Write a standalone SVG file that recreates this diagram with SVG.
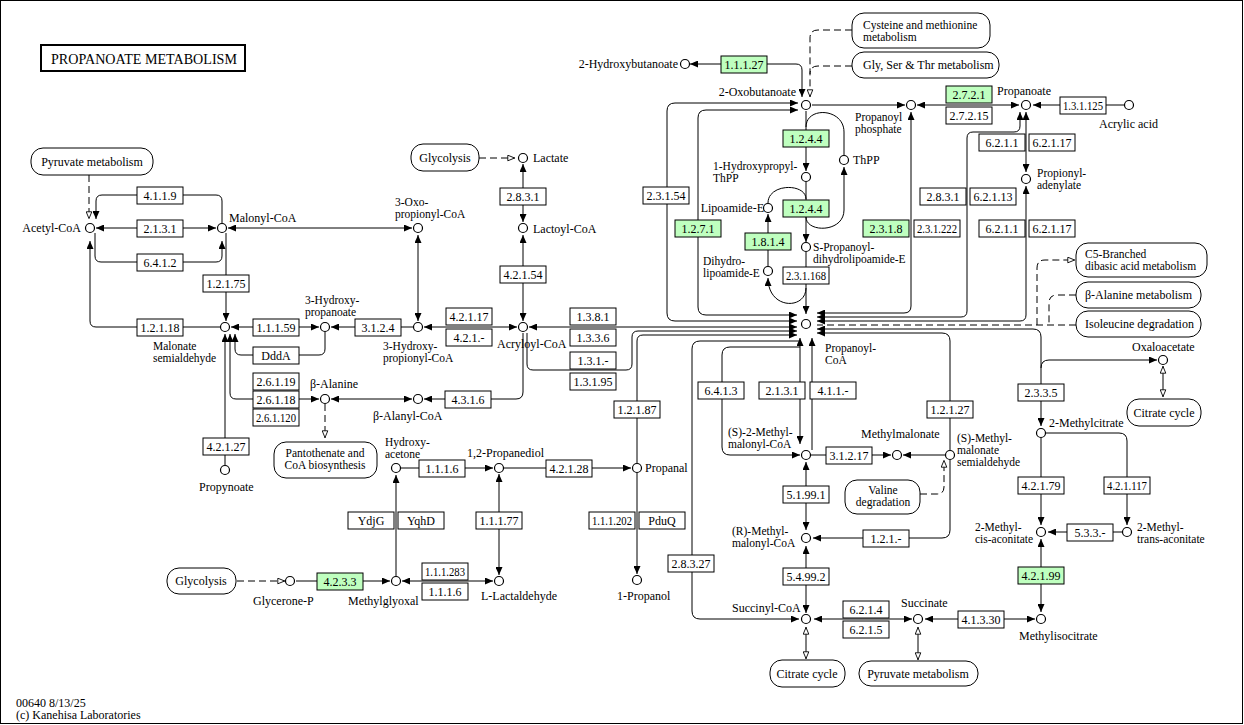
<svg xmlns="http://www.w3.org/2000/svg" width="1244" height="725" viewBox="0 0 1244 725">
<defs>
<style>
.ln{fill:none;stroke:#000;stroke-width:1}
.ds{fill:none;stroke:#000;stroke-width:1;stroke-dasharray:7 4}
.cp{fill:#fff;stroke:#000;stroke-width:1.2}
.ez{fill:#fff;stroke:#000;stroke-width:1}
.gn{fill:#bfffbf;stroke:#000;stroke-width:1}
.mp{fill:#fff;stroke:#000;stroke-width:1}
.b{marker-start:url(#f);marker-end:url(#f)}
.e{marker-end:url(#f)}
.he{marker-end:url(#o)}
text{font-family:"Liberation Serif","Times New Roman",serif;font-size:12px;fill:#000}
.s{font-size:11.5px}
.et,.mt{text-anchor:middle}
.r{text-anchor:end}
</style>
<marker id="f" viewBox="0 0 10 10" refX="10" refY="5" markerWidth="8" markerHeight="7" markerUnits="userSpaceOnUse" orient="auto-start-reverse" preserveAspectRatio="none"><path d="M0,0L10,5L0,10z" fill="#000"/></marker>
<marker id="o" viewBox="0 0 10 10" refX="10" refY="5" markerWidth="8" markerHeight="7" markerUnits="userSpaceOnUse" orient="auto-start-reverse" preserveAspectRatio="none"><path d="M1,1L9.5,5L1,9z" fill="#fff" stroke="#000" stroke-width="1.2" stroke-dasharray="none"/></marker>
</defs>
<rect width="1244" height="725" fill="#fff"/>
<rect x="0.5" y="0.5" width="1242" height="723" fill="none" stroke="#000"/>
<g id="title"><rect x="41" y="45" width="204" height="26" fill="none" stroke="#000" stroke-width="2"/><text x="51" y="64" style="font-size:14px" textLength="186" lengthAdjust="spacingAndGlyphs">PROPANOATE  METABOLISM</text></g>

<g id="connectors">
<path class="ds he" d="M89 175V219"/>
<path class="ln e" d="M222 223V201Q222 195 216 195H102Q96 195 96 201V219"/>
<path class="ln b" d="M96 228H216"/>
<path class="ln e" d="M95 233V256Q95 262 101 262H216Q222 262 222 256V241"/>
<path class="ln e" d="M220 327H96Q90 327 90 321V241"/>
<path class="ln e" d="M226 233V321"/>
<path class="ln b" d="M228 228H412"/>
<path class="ln b" d="M418 235V321"/>
<path class="ln b" d="M231 327H319"/>
<path class="ln e" d="M413 327H331"/>
<path class="ln e" d="M325 332V349Q325 355 319 355H241Q235 355 235 349V334"/>
<path class="ln b" d="M230 334V393Q230 399 236 399H319"/>
<path class="ln e" d="M225 465V334"/>
<path class="ln b" d="M331 399H412"/>
<path class="ds he" d="M325 404V438"/>
<path class="ln e" d="M523 333V392Q523 399 516 399H424"/>
<path class="ln b" d="M424 327H517"/>
<path class="ln b" d="M523 164V222"/>
<path class="ln b" d="M523 235V321"/>
<path class="ds he" d="M479 158H515"/>
<path class="ln b" d="M529 327H797"/>
<path class="ln e" d="M527 333V364Q527 370 533 370H626Q632 370 632 364V337Q632 331 638 331H797"/>
<path class="ln e" d="M637 463V341Q637 335 643 335H797"/>
<path class="ln b" d="M798 103H675Q667 103 667 111V313Q667 321 675 321H797"/>
<path class="ln b" d="M798 110H706Q698 110 698 118V307Q698 315 706 315H797"/>
<path class="ln b" d="M690 64H796Q802 64 802 70V97"/>
<path class="ds he" d="M852 30H818Q810 30 810 38V97"/>
<path class="ds" d="M852 66H818Q810 66 810 74"/>
<path class="ln e" d="M812 105H905"/>
<path class="ln b" d="M917 105H1019"/>
<path class="ln e" d="M1124 105H1033"/>
<path class="ln e" d="M806 111V171"/>
<path class="ln" d="M844 155V132C844 108 806 106 806 127"/>
<path class="ln e" d="M806 217C806 233 844 233 844 210V167"/>
<path class="ln e" d="M806 182V242"/>
<path class="ln" d="M768 203C768 183 806 183 806 199"/>
<path class="ln e" d="M768 266V214"/>
<path class="ln e" d="M806 288C806 310 768 310 768 278"/>
<path class="ln e" d="M806 252V314"/>
<path class="ln b" d="M911 112V306Q911 313 904 313H817"/>
<path class="ln b" d="M1020 112V126Q1020 132 1014 132H973Q967 132 967 138V311Q967 317 961 317H817"/>
<path class="ln b" d="M1026 112V172"/>
<path class="ln b" d="M1026 186V315Q1026 321 1020 321H817"/>
<path class="ds" d="M1076 325H817"/>
<path class="ds he" d="M1037 325V268Q1037 260 1045 260H1075"/>
<path class="ds" d="M1076 295H1057Q1049 295 1049 303V325"/>
<path class="ln b" d="M817 329H1033Q1041 329 1041 337V426"/>
<path class="ln e" d="M950 450V341Q950 333 942 333H817"/>
<path class="ln e" d="M1041 368Q1041 360 1049 360H1157"/>
<path class="ln he" d="M1163 381V366"/>
<path class="ln he" d="M1163 381V397"/>
<path class="ln e" d="M800 347H730Q722 347 722 355V447Q722 455 730 455H800"/>
<path class="ln e" d="M800 341H700Q692 341 692 349V611Q692 619 700 619H799"/>
<path class="ln b" d="M800 338V444"/>
<path class="ln e" d="M812 450V338"/>
<path class="ln e" d="M811 455H891"/>
<path class="ln e" d="M945 455H903"/>
<path class="ds he" d="M920 494H937Q944 494 944 487V460"/>
<path class="ln e" d="M950 460V530Q950 538 942 538H813"/>
<path class="ln b" d="M806 462V530"/>
<path class="ln b" d="M806 546V613"/>
<path class="ln b" d="M814 619H912"/>
<path class="ln b" d="M925 619H1035"/>
<path class="ln b" d="M1041 539V612"/>
<path class="ln e" d="M1041 438V525"/>
<path class="ln e" d="M1046 433H1119Q1127 433 1127 441V525"/>
<path class="ln e" d="M1122 532H1048"/>
<path class="ln he" d="M806 641V627"/>
<path class="ln he" d="M806 641V659"/>
<path class="ln he" d="M918 641V627"/>
<path class="ln he" d="M918 641V660"/>
<path class="ds he" d="M237 581H285"/>
<path class="ln e" d="M296 581H390"/>
<path class="ln b" d="M402 581H493"/>
<path class="ln e" d="M396 576V475"/>
<path class="ln e" d="M401 468H493"/>
<path class="ln b" d="M499 474V575"/>
<path class="ln e" d="M504 468H631"/>
<path class="ln e" d="M637 473V574"/>
</g>

<g id="maps">
<g id="m-pyr1"><rect class="mp" x="31" y="148" width="122" height="27" rx="12"/><text class="mt" x="92" y="166">Pyruvate metabolism</text></g>
<g id="m-gly1"><rect class="mp" x="411" y="144" width="68" height="27" rx="12"/><text class="mt" x="445" y="162">Glycolysis</text></g>
<g id="m-cys"><rect class="mp" x="852" y="13" width="138" height="35" rx="12"/><text class="s" x="863" y="29">Cysteine and methionine</text><text class="s" x="863" y="41">metabolism</text></g>
<g id="m-gst"><rect class="mp" x="852" y="52" width="147" height="26" rx="12"/><text x="863" y="69">Gly, Ser &amp; Thr metabolism</text></g>
<g id="m-c5"><rect class="mp" x="1076" y="243" width="131" height="34" rx="12"/><text class="s" x="1085" y="258">C5-Branched</text><text class="s" x="1085" y="270">dibasic acid metabolism</text></g>
<g id="m-bala"><rect class="mp" x="1076" y="282" width="125" height="26" rx="12"/><text x="1085" y="299">β-Alanine metabolism</text></g>
<g id="m-ile"><rect class="mp" x="1076" y="311" width="125" height="26" rx="12"/><text x="1085" y="328">Isoleucine degradation</text></g>
<g id="m-tca1"><rect class="mp" x="1127" y="399" width="74" height="27" rx="12"/><text class="mt" x="1164" y="417">Citrate cycle</text></g>
<g id="m-pan"><rect class="mp" x="274" y="442" width="103" height="36" rx="12"/><text class="mt s" x="325" y="457">Pantothenate and</text><text class="mt s" x="325" y="469">CoA biosynthesis</text></g>
<g id="m-val"><rect class="mp" x="845" y="480" width="75" height="34" rx="12"/><text class="mt s" x="883" y="494">Valine</text><text class="mt s" x="883" y="506">degradation</text></g>
<g id="m-gly2"><rect class="mp" x="167" y="568" width="69" height="26" rx="12"/><text class="mt" x="201" y="585">Glycolysis</text></g>
<g id="m-tca2"><rect class="mp" x="770" y="660" width="75" height="27" rx="12"/><text class="mt" x="807" y="678">Citrate cycle</text></g>
<g id="m-pyr2"><rect class="mp" x="859" y="661" width="119" height="25" rx="12"/><text class="mt" x="918" y="678">Pyruvate metabolism</text></g>
</g>

<g id="enzymes">
<g id="e01"><rect class="ez" x="137" y="187" width="46" height="17"/><text class="et" x="160" y="200">4.1.1.9</text></g>
<g id="e02"><rect class="ez" x="137" y="220" width="46" height="17"/><text class="et" x="160" y="233">2.1.3.1</text></g>
<g id="e03"><rect class="ez" x="137" y="254" width="46" height="17"/><text class="et" x="160" y="267">6.4.1.2</text></g>
<g id="e04"><rect class="ez" x="203" y="275" width="46" height="17"/><text class="et" x="226" y="288">1.2.1.75</text></g>
<g id="e05"><rect class="ez" x="137" y="319" width="46" height="17"/><text class="et" x="160" y="332">1.2.1.18</text></g>
<g id="e06"><rect class="ez" x="253" y="319" width="46" height="17"/><text class="et" x="276" y="332">1.1.1.59</text></g>
<g id="e07"><rect class="ez" x="253" y="347" width="46" height="17"/><text class="et" x="276" y="360">DddA</text></g>
<g id="e08"><rect class="ez" x="355" y="319" width="46" height="17"/><text class="et" x="378" y="332">3.1.2.4</text></g>
<g id="e09"><rect class="ez" x="253" y="373" width="46" height="17"/><text class="et" x="276" y="386">2.6.1.19</text></g>
<g id="e10"><rect class="ez" x="253" y="391" width="46" height="17"/><text class="et" x="276" y="404">2.6.1.18</text></g>
<g id="e11"><rect class="ez" x="253" y="409" width="46" height="17"/><text class="et" x="276" y="422" textLength="40" lengthAdjust="spacingAndGlyphs">2.6.1.120</text></g>
<g id="e12"><rect class="ez" x="203" y="438" width="46" height="17"/><text class="et" x="226" y="451">4.2.1.27</text></g>
<g id="e13"><rect class="ez" x="446" y="308" width="46" height="17"/><text class="et" x="469" y="321">4.2.1.17</text></g>
<g id="e14"><rect class="ez" x="446" y="329" width="46" height="17"/><text class="et" x="469" y="342">4.2.1.-</text></g>
<g id="e15"><rect class="ez" x="500" y="266" width="46" height="17"/><text class="et" x="523" y="279">4.2.1.54</text></g>
<g id="e16"><rect class="ez" x="500" y="188" width="46" height="17"/><text class="et" x="523" y="201">2.8.3.1</text></g>
<g id="e17"><rect class="ez" x="570" y="308" width="46" height="17"/><text class="et" x="593" y="321">1.3.8.1</text></g>
<g id="e18"><rect class="ez" x="570" y="329" width="46" height="17"/><text class="et" x="593" y="342">1.3.3.6</text></g>
<g id="e19"><rect class="ez" x="570" y="352" width="46" height="17"/><text class="et" x="593" y="365">1.3.1.-</text></g>
<g id="e20"><rect class="ez" x="570" y="373" width="46" height="17"/><text class="et" x="593" y="386">1.3.1.95</text></g>
<g id="e21"><rect class="ez" x="445" y="391" width="46" height="17"/><text class="et" x="468" y="404">4.3.1.6</text></g>
<g id="e22"><rect class="ez" x="614" y="401" width="46" height="17"/><text class="et" x="637" y="414">1.2.1.87</text></g>
<g id="e23"><rect class="ez" x="698" y="382" width="46" height="17"/><text class="et" x="721" y="395">6.4.1.3</text></g>
<g id="e24"><rect class="ez" x="759" y="382" width="46" height="17"/><text class="et" x="782" y="395">2.1.3.1</text></g>
<g id="e25"><rect class="ez" x="810" y="382" width="46" height="17"/><text class="et" x="833" y="395">4.1.1.-</text></g>
<g id="e26"><rect class="ez" x="419" y="460" width="46" height="17"/><text class="et" x="442" y="473">1.1.1.6</text></g>
<g id="e27"><rect class="ez" x="546" y="460" width="46" height="17"/><text class="et" x="569" y="473">4.2.1.28</text></g>
<g id="e28"><rect class="ez" x="348" y="512" width="46" height="17"/><text class="et" x="371" y="525">YdjG</text></g>
<g id="e29"><rect class="ez" x="398" y="512" width="46" height="17"/><text class="et" x="421" y="525">YqhD</text></g>
<g id="e30"><rect class="ez" x="476" y="512" width="46" height="17"/><text class="et" x="499" y="525">1.1.1.77</text></g>
<g id="e31"><rect class="ez" x="589" y="512" width="46" height="17"/><text class="et" x="612" y="525" textLength="40" lengthAdjust="spacingAndGlyphs">1.1.1.202</text></g>
<g id="e32"><rect class="ez" x="639" y="512" width="46" height="17"/><text class="et" x="662" y="525">PduQ</text></g>
<g id="e33"><rect class="ez" x="422" y="563" width="46" height="17"/><text class="et" x="445" y="576" textLength="40" lengthAdjust="spacingAndGlyphs">1.1.1.283</text></g>
<g id="e34"><rect class="ez" x="422" y="583" width="46" height="17"/><text class="et" x="445" y="596">1.1.1.6</text></g>
<g id="e35"><rect class="gn" x="317" y="573" width="46" height="17"/><text class="et" x="340" y="586">4.2.3.3</text></g>
<g id="e36"><rect class="ez" x="668" y="555" width="46" height="17"/><text class="et" x="691" y="568">2.8.3.27</text></g>
<g id="e37"><rect class="ez" x="783" y="486" width="46" height="17"/><text class="et" x="806" y="499">5.1.99.1</text></g>
<g id="e38"><rect class="ez" x="783" y="568" width="46" height="17"/><text class="et" x="806" y="581">5.4.99.2</text></g>
<g id="e39"><rect class="ez" x="863" y="530" width="46" height="17"/><text class="et" x="886" y="543">1.2.1.-</text></g>
<g id="e40"><rect class="ez" x="927" y="401" width="46" height="17"/><text class="et" x="950" y="414">1.2.1.27</text></g>
<g id="e41"><rect class="ez" x="826" y="447" width="46" height="17"/><text class="et" x="849" y="460">3.1.2.17</text></g>
<g id="e42"><rect class="ez" x="1018" y="384" width="46" height="17"/><text class="et" x="1041" y="397">2.3.3.5</text></g>
<g id="e43"><rect class="ez" x="1018" y="477" width="46" height="17"/><text class="et" x="1041" y="490">4.2.1.79</text></g>
<g id="e44"><rect class="ez" x="1104" y="477" width="46" height="17"/><text class="et" x="1127" y="490" textLength="40" lengthAdjust="spacingAndGlyphs">4.2.1.117</text></g>
<g id="e45"><rect class="ez" x="1067" y="524" width="46" height="17"/><text class="et" x="1090" y="537">5.3.3.-</text></g>
<g id="e46"><rect class="gn" x="1018" y="567" width="46" height="17"/><text class="et" x="1041" y="580">4.2.1.99</text></g>
<g id="e47"><rect class="ez" x="843" y="601" width="46" height="17"/><text class="et" x="866" y="614">6.2.1.4</text></g>
<g id="e48"><rect class="ez" x="843" y="621" width="46" height="17"/><text class="et" x="866" y="634">6.2.1.5</text></g>
<g id="e49"><rect class="ez" x="958" y="611" width="46" height="17"/><text class="et" x="981" y="624">4.1.3.30</text></g>
<g id="e50"><rect class="gn" x="721" y="56" width="46" height="17"/><text class="et" x="744" y="69">1.1.1.27</text></g>
<g id="e51"><rect class="gn" x="783" y="130" width="46" height="17"/><text class="et" x="806" y="143">1.2.4.4</text></g>
<g id="e52"><rect class="gn" x="783" y="200" width="46" height="17"/><text class="et" x="806" y="213">1.2.4.4</text></g>
<g id="e53"><rect class="ez" x="643" y="187" width="46" height="17"/><text class="et" x="666" y="200">2.3.1.54</text></g>
<g id="e54"><rect class="gn" x="675" y="220" width="46" height="17"/><text class="et" x="698" y="233">1.2.7.1</text></g>
<g id="e55"><rect class="gn" x="745" y="233" width="46" height="17"/><text class="et" x="768" y="246">1.8.1.4</text></g>
<g id="e56"><rect class="ez" x="783" y="267" width="46" height="17"/><text class="et" x="806" y="280" textLength="40" lengthAdjust="spacingAndGlyphs">2.3.1.168</text></g>
<g id="e57"><rect class="gn" x="946" y="86" width="46" height="17"/><text class="et" x="969" y="99">2.7.2.1</text></g>
<g id="e58"><rect class="ez" x="946" y="107" width="46" height="17"/><text class="et" x="969" y="120">2.7.2.15</text></g>
<g id="e59"><rect class="ez" x="1060" y="97" width="46" height="17"/><text class="et" x="1083" y="110" textLength="40" lengthAdjust="spacingAndGlyphs">1.3.1.125</text></g>
<g id="e60"><rect class="ez" x="979" y="134" width="46" height="17"/><text class="et" x="1002" y="147">6.2.1.1</text></g>
<g id="e61"><rect class="ez" x="1029" y="134" width="46" height="17"/><text class="et" x="1052" y="147">6.2.1.17</text></g>
<g id="e62"><rect class="ez" x="920" y="188" width="46" height="17"/><text class="et" x="943" y="201">2.8.3.1</text></g>
<g id="e63"><rect class="ez" x="970" y="188" width="46" height="17"/><text class="et" x="993" y="201">6.2.1.13</text></g>
<g id="e64"><rect class="gn" x="863" y="220" width="46" height="17"/><text class="et" x="886" y="233">2.3.1.8</text></g>
<g id="e65"><rect class="ez" x="914" y="220" width="46" height="17"/><text class="et" x="937" y="233" textLength="40" lengthAdjust="spacingAndGlyphs">2.3.1.222</text></g>
<g id="e66"><rect class="ez" x="979" y="220" width="46" height="17"/><text class="et" x="1002" y="233">6.2.1.1</text></g>
<g id="e67"><rect class="ez" x="1029" y="220" width="46" height="17"/><text class="et" x="1052" y="233">6.2.1.17</text></g>
</g>

<g id="compounds">
<g id="c01"><circle class="cp" cx="90" cy="228" r="4.5"/><text class="r" x="81" y="232">Acetyl-CoA</text></g>
<g id="c02"><circle class="cp" cx="222" cy="228" r="4.5"/><text x="229" y="222">Malonyl-CoA</text></g>
<g id="c03"><circle class="cp" cx="418" cy="228" r="4.5"/><text class="s" x="395" y="206">3-Oxo-</text><text class="s" x="395" y="218">propionyl-CoA</text></g>
<g id="c04"><circle class="cp" cx="523" cy="158" r="4.5"/><text x="533" y="162">Lactate</text></g>
<g id="c05"><circle class="cp" cx="523" cy="228" r="4.5"/><text x="533" y="233">Lactoyl-CoA</text></g>
<g id="c06"><circle class="cp" cx="225" cy="327" r="4.5"/><text class="s" x="153" y="350">Malonate</text><text class="s" x="153" y="362">semialdehyde</text></g>
<g id="c07"><circle class="cp" cx="325" cy="327" r="4.5"/><text class="s" x="305" y="304">3-Hydroxy-</text><text class="s" x="305" y="316">propanoate</text></g>
<g id="c08"><circle class="cp" cx="418" cy="327" r="4.5"/><text class="s" x="383" y="350">3-Hydroxy-</text><text class="s" x="383" y="362">propionyl-CoA</text></g>
<g id="c09"><circle class="cp" cx="523" cy="327" r="4.5"/><text x="497" y="348">Acryloyl-CoA</text></g>
<g id="c10"><circle class="cp" cx="325" cy="399" r="4.5"/><text x="310" y="388">β-Alanine</text></g>
<g id="c11"><circle class="cp" cx="418" cy="399" r="4.5"/><text x="373" y="420">β-Alanyl-CoA</text></g>
<g id="c12"><circle class="cp" cx="225" cy="470" r="4.5"/><text x="199" y="491">Propynoate</text></g>
<g id="c13"><circle class="cp" cx="396" cy="468" r="4.5"/><text class="s" x="385" y="446">Hydroxy-</text><text class="s" x="385" y="458">acetone</text></g>
<g id="c14"><circle class="cp" cx="499" cy="468" r="4.5"/><text x="467" y="457">1,2-Propanediol</text></g>
<g id="c15"><circle class="cp" cx="637" cy="468" r="4.5"/><text x="645" y="472">Propanal</text></g>
<g id="c16"><circle class="cp" cx="290" cy="581" r="4.5"/><text x="253" y="605">Glycerone-P</text></g>
<g id="c17"><circle class="cp" cx="396" cy="581" r="4.5"/><text x="348" y="605">Methylglyoxal</text></g>
<g id="c18"><circle class="cp" cx="499" cy="581" r="4.5"/><text x="481" y="600">L-Lactaldehyde</text></g>
<g id="c19"><circle class="cp" cx="637" cy="580" r="4.5"/><text x="617" y="600">1-Propanol</text></g>
<g id="c20"><circle class="cp" cx="685" cy="64" r="4.5"/><text class="r" x="678" y="68">2-Hydroxybutanoate</text></g>
<g id="c21"><circle class="cp" cx="806" cy="105" r="4.5"/><text class="r" x="796" y="96">2-Oxobutanoate</text></g>
<g id="c22"><circle class="cp" cx="911" cy="105" r="4.5"/><text class="s" x="855" y="121">Propanoyl</text><text class="s" x="855" y="133">phosphate</text></g>
<g id="c23"><circle class="cp" cx="1026" cy="105" r="4.5"/><text x="997" y="95">Propanoate</text></g>
<g id="c24"><circle class="cp" cx="1129" cy="105" r="4.5"/><text x="1099" y="128">Acrylic acid</text></g>
<g id="c25"><circle class="cp" cx="844" cy="160" r="4.5"/><text x="853" y="164">ThPP</text></g>
<g id="c26"><circle class="cp" cx="806" cy="177" r="4.5"/><text class="s" x="713" y="170">1-Hydroxypropyl-</text><text class="s" x="713" y="182">ThPP</text></g>
<g id="c27"><circle class="cp" cx="768" cy="208" r="4.5"/><text class="r" x="764" y="212">Lipoamide-E</text></g>
<g id="c28"><circle class="cp" cx="806" cy="247" r="4.5"/><text class="s" x="813" y="251">S-Propanoyl-</text><text class="s" x="813" y="263">dihydrolipoamide-E</text></g>
<g id="c29"><circle class="cp" cx="768" cy="271" r="4.5"/><text class="s" x="703" y="265">Dihydro-</text><text class="s" x="703" y="277">lipoamide-E</text></g>
<g id="c30"><circle class="cp" cx="1026" cy="179" r="4.5"/><text class="s" x="1037" y="177">Propionyl-</text><text class="s" x="1037" y="189">adenylate</text></g>
<g id="c31"><circle class="cp" cx="806" cy="324" r="4.5"/><text class="s" x="825" y="352">Propanoyl-</text><text class="s" x="825" y="364">CoA</text></g>
<g id="c32"><circle class="cp" cx="806" cy="455" r="4.5"/><text class="s" x="728" y="436">(S)-2-Methyl-</text><text class="s" x="728" y="448">malonyl-CoA</text></g>
<g id="c33"><circle class="cp" cx="897" cy="455" r="4.5"/><text x="861" y="438">Methylmalonate</text></g>
<g id="c34"><circle class="cp" cx="950" cy="455" r="4.5"/><text class="s" x="957" y="442">(S)-Methyl-</text><text class="s" x="957" y="454">malonate</text><text class="s" x="957" y="466">semialdehyde</text></g>
<g id="c35"><circle class="cp" cx="806" cy="538" r="4.5"/><text class="s" x="732" y="535">(R)-Methyl-</text><text class="s" x="732" y="547">malonyl-CoA</text></g>
<g id="c36"><circle class="cp" cx="806" cy="619" r="4.5"/><text x="732" y="612">Succinyl-CoA</text></g>
<g id="c37"><circle class="cp" cx="918" cy="619" r="4.5"/><text x="901" y="607">Succinate</text></g>
<g id="c38"><circle class="cp" cx="1041" cy="619" r="4.5"/><text x="1019" y="640">Methylisocitrate</text></g>
<g id="c39"><circle class="cp" cx="1163" cy="360" r="4.5"/><text x="1132" y="351">Oxaloacetate</text></g>
<g id="c40"><circle class="cp" cx="1041" cy="433" r="4.5"/><text x="1049" y="427">2-Methylcitrate</text></g>
<g id="c41"><circle class="cp" cx="1041" cy="532" r="4.5"/><text class="s" x="975" y="531">2-Methyl-</text><text class="s" x="975" y="543">cis-aconitate</text></g>
<g id="c42"><circle class="cp" cx="1127" cy="532" r="4.5"/><text class="s" x="1137" y="531">2-Methyl-</text><text class="s" x="1137" y="543">trans-aconitate</text></g>
</g>

<g id="footer"><text x="16" y="707">00640 8/13/25</text><text x="16" y="719">(c) Kanehisa Laboratories</text></g>
</svg>
